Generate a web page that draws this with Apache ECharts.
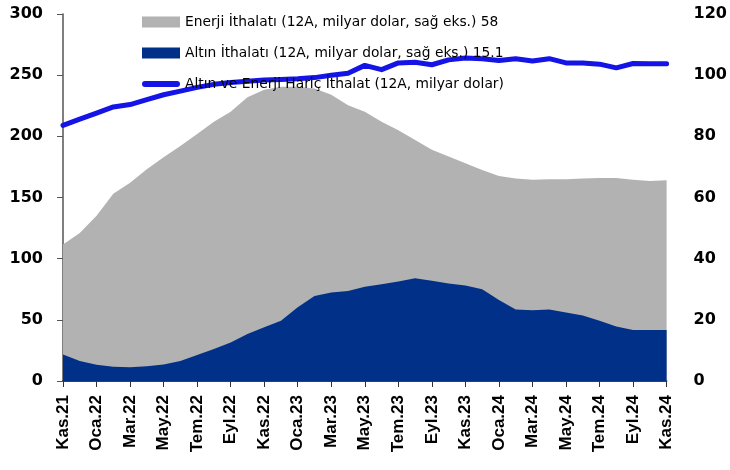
<!DOCTYPE html>
<html>
<head>
<meta charset="utf-8">
<script src="https://cdn.jsdelivr.net/npm/echarts@6/dist/echarts.min.js"></script>
<style>
html,body{margin:0;padding:0;background:#fff;}
#c{width:730px;height:470px;}
</style>
</head>
<body>
<div id="c"></div>
<script>
var categories = ['Kas.21','Ara.21','Oca.22','Şub.22','Mar.22','Nis.22','May.22','Haz.22','Tem.22','Ağu.22','Eyl.22','Eki.22',
  'Kas.22','Ara.22','Oca.23','Şub.23','Mar.23','Nis.23','May.23','Haz.23','Tem.23','Ağu.23','Eyl.23','Eki.23',
  'Kas.23','Ara.23','Oca.24','Şub.24','Mar.24','Nis.24','May.24','Haz.24','Tem.24','Ağu.24','Eyl.24','Eki.24','Kas.24'];

// right axis (milyar dolar)
var energyImports = [44.6,48.4,54.0,61.2,64.8,69.2,73.2,76.8,80.8,84.8,88.0,92.8,95.2,96.2,96.2,95.6,93.6,90.2,88.0,84.8,82.0,78.8,75.6,73.4,71.2,69.0,67.0,66.2,65.8,66.0,66.0,66.2,66.4,66.4,65.8,65.4,65.6];
var goldImports = [8.7,6.5,5.3,4.7,4.5,4.8,5.4,6.5,8.5,10.5,12.6,15.4,17.6,19.7,24.1,27.8,28.9,29.4,30.8,31.6,32.5,33.6,32.8,31.9,31.2,30.0,26.5,23.4,23.1,23.4,22.4,21.4,19.7,17.8,16.7,16.7,16.7];
// left axis (milyar dolar)
var coreImports = [209,214,219,224,226,230,234,237,240,242.5,244,245,246,246.5,247,248,250,251.5,258,254.5,260,260.5,258.5,262.5,264,263.5,262,263.5,261.5,263.5,260,260,259,256,259.5,259.3,259.3];

var seriesNames = [
  'Enerji İthalatı (12A, milyar dolar, sağ eks.) 58',
  'Altın İthalatı (12A, milyar dolar, sağ eks.) 15.1',
  'Altın ve Enerji Hariç İthalat (12A, milyar dolar)'
];
var leftTicks = {min: 0, max: 300, interval: 50};
var rightTicks = {min: 0, max: 120, interval: 20};

var lineIcon = 'path://M3,0 L35,0 A3,3 0 0 1 35,6 L3,6 A3,3 0 0 1 3,0 Z';

var chart = echarts.init(document.getElementById('c'), null, {renderer: 'canvas'});
chart.setOption({
  animation: false,
  backgroundColor: '#ffffff',
  grid: {left: 63, right: 63, top: 14, bottom: 89},
  legend: {
    orient: 'vertical',
    left: 137,
    top: 10,
    itemWidth: 38,
    itemHeight: 11,
    itemGap: 17,
    symbolKeepAspect: true,
    textStyle: {fontFamily: 'DejaVu Sans', fontSize: 13.8, color: '#000'},
    data: [
      {name: seriesNames[0], icon: 'rect'},
      {name: seriesNames[1], icon: 'rect'},
      {name: seriesNames[2], icon: lineIcon, itemStyle: {color: '#1414E6'}}
    ]
  },
  xAxis: {
    type: 'category',
    data: categories,
    boundaryGap: false,
    axisLine: {lineStyle: {color: '#000', width: 1.5}},
    axisTick: {interval: 1, length: 6, lineStyle: {color: '#333'}},
    axisLabel: {interval: 1, rotate: 90, margin: 14, fontFamily: 'Liberation Sans', fontWeight: 'bold', fontSize: 17, color: '#000'}
  },
  yAxis: [
    {
      type: 'value', min: leftTicks.min, max: leftTicks.max, interval: leftTicks.interval,
      axisLine: {show: true, lineStyle: {color: '#555', width: 1.5}},
      axisTick: {show: true, length: 6, lineStyle: {color: '#555'}},
      splitLine: {show: false},
      axisLabel: {margin: 20, fontFamily: 'DejaVu Sans', fontWeight: 'bold', fontSize: 16, color: '#000'}
    },
    {
      type: 'value', min: rightTicks.min, max: rightTicks.max, interval: rightTicks.interval,
      position: 'right',
      axisLine: {show: false},
      axisTick: {show: false},
      splitLine: {show: false},
      axisLabel: {margin: 27, fontFamily: 'DejaVu Sans', fontWeight: 'bold', fontSize: 16, color: '#000'}
    }
  ],
  series: [
    {
      name: seriesNames[0], type: 'line', yAxisIndex: 1, data: energyImports,
      symbol: 'none', lineStyle: {width: 0}, itemStyle: {color: '#B2B2B2'},
      areaStyle: {color: '#B2B2B2', opacity: 1}, z: 1
    },
    {
      name: seriesNames[1], type: 'line', yAxisIndex: 1, data: goldImports,
      symbol: 'none', lineStyle: {width: 0}, itemStyle: {color: '#003087'},
      areaStyle: {color: '#003087', opacity: 1}, z: 2
    },
    {
      name: seriesNames[2], type: 'line', yAxisIndex: 0, data: coreImports,
      symbol: 'none', lineStyle: {width: 5, color: '#1414E6', cap: 'round', join: 'round'},
      itemStyle: {color: '#1414E6'}, z: 3
    }
  ]
});
</script>
</body>
</html>
